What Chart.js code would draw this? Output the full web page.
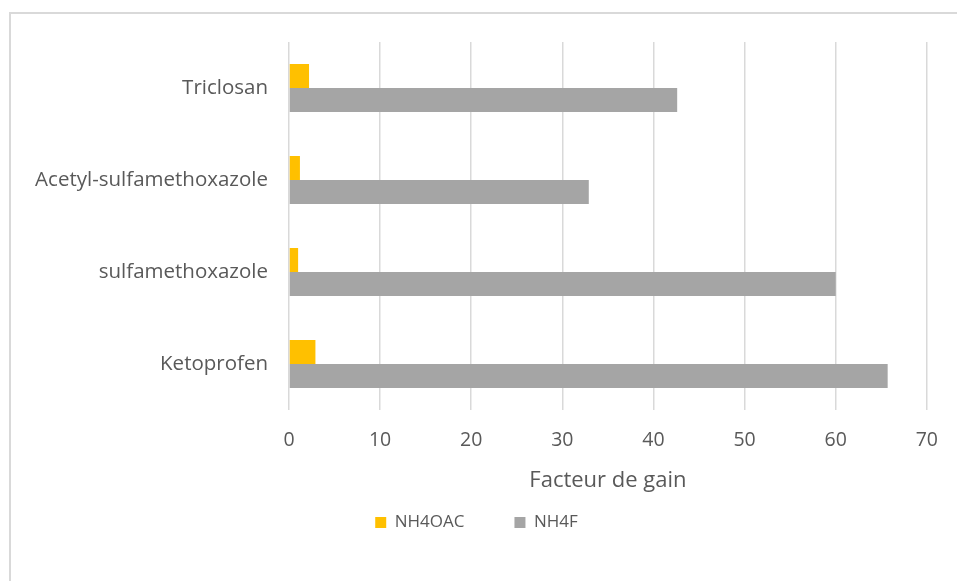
<!DOCTYPE html>
<html>
<head>
<meta charset="utf-8">
<script src="https://cdn.jsdelivr.net/npm/chart.js@4"></script>
<style>
	body{margin:0;background:#fff;overflow:hidden;}
	.wrap{position:relative;width:957px;height:581px;overflow:hidden;}
	.frame{position:absolute;left:9px;top:12px;width:1100px;height:700px;border-top:2px solid #d9d9d9;border-left:2px solid #d9d9d9;}
	#chart{position:absolute;left:0;top:0;}
</style>
</head>
<body>
<div class="wrap">
	<div class="frame"></div>
	<canvas id="chart" width="957" height="581"></canvas>
</div>
<script>
'use strict'

//카테고리
const categories = ['Triclosan', 'Acetyl-sulfamethoxazole', 'sulfamethoxazole', 'Ketoprofen'];
//NH4OAC 값
const nh4oacValues = [2.2, 1.2, 1.0, 2.9];
//NH4F 값
const nh4fValues = [42.6, 32.9, 60.0, 65.7];
//x축 눈금
const xTicks = [0, 10, 20, 30, 40, 50, 60, 70];

const textColor = '#595959';
const fontName = '"Open Sans", "DejaVu Sans", sans-serif';

new Chart(document.getElementById('chart'), {
	type: 'bar',
	data: {
		labels: categories,
		datasets: [{
			label: 'NH4OAC',
			data: nh4oacValues,
			backgroundColor: '#FFC000'
		}, {
			label: 'NH4F',
			data: nh4fValues,
			backgroundColor: '#A5A5A5'
		}]
	},
	options: {
		indexAxis: 'y',
		responsive: false,
		animation: false,
		categoryPercentage: 0.52,
		barPercentage: 1.0,
		layout: {
			padding: {top: 42, left: 25, right: 29, bottom: 40}
		},
		plugins: {
			legend: {
				position: 'bottom',
				labels: {
					color: textColor,
					font: {family: fontName, size: 17},
					boxWidth: 11,
					boxHeight: 11,
					padding: 50
				}
			},
			tooltip: {enabled: false}
		},
		scales: {
			x: {
				min: 0,
				max: 70,
				afterBuildTicks: (scale) => {
					scale.ticks = xTicks.map((v) => ({value: v}));
				},
				afterFit: (scale) => {
					scale.height = 54;
				},
				grid: {color: '#d9d9d9', lineWidth: 1.5, drawTicks: false},
				border: {display: false},
				ticks: {
					color: textColor,
					font: {family: fontName, size: 19.5},
					padding: 19
				},
				title: {
					display: true,
					text: 'Facteur de gain',
					color: textColor,
					font: {family: fontName, size: 22},
					padding: {top: 0, bottom: -30}
				}
			},
			y: {
				afterFit: (scale) => {
					scale.width = 264;
				},
				grid: {display: false, drawTicks: false},
				border: {display: false},
				ticks: {
					color: textColor,
					font: {family: fontName, size: 20.5},
					padding: 21
				}
			}
		}
	}
});
</script>
</body>
</html>
